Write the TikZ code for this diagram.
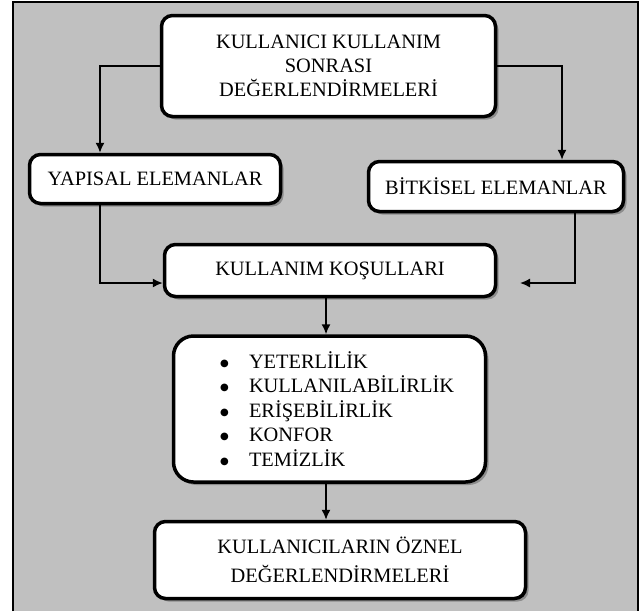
\documentclass[tikz,border=0pt]{standalone}
\usepackage{fontspec}
\setmainfont{Liberation Serif}
\newfontfamily\isaret{DejaVu Sans}
\usetikzlibrary{shadows,arrows.meta}
\definecolor{zemin}{RGB}{192,192,192}
\tikzset{
  kutu/.style={draw,line width=3.5pt,fill=white,rounded corners=11pt,align=center,inner sep=0pt,
    font=\fontsize{20.4}{24}\selectfont,
    drop shadow={shadow xshift=3pt,shadow yshift=-3pt,fill=black!45,opacity=1}},
  ok/.style={line width=1.5pt,-{Latex[length=10pt,width=9pt]}},
  madde/.style={font=\fontsize{20.4}{24.5}\selectfont}
}
\newcommand{\imlec}{\makebox[29pt][l]{\raisebox{2pt}{\isaret\fontsize{10}{10}\selectfont ●}}}
\begin{document}
\begin{tikzpicture}[x=1pt,y=-1pt]
\useasboundingbox (0,0) rectangle (639,611);
\fill[zemin] (13,2) rectangle (638,611);
\draw[line width=2pt] (13,611) -- (13,2) -- (638,2) -- (638,611);
% kutular
\node[kutu,minimum width=334,minimum height=101] (ust) at (328.5,66) {KULLANICI KULLANIM\\SONRASI\\DEĞERLENDİRMELERİ};
\node[kutu,minimum width=251,minimum height=49] (yapisal) at (155,179) {YAPISAL ELEMANLAR};
\node[kutu,minimum width=255,minimum height=50] (bitkisel) at (496,186.5) {BİTKİSEL ELEMANLAR};
\node[kutu,minimum width=331,minimum height=52] (kosul) at (330,270.5) {KULLANIM KOŞULLARI};
\node[kutu,madde,rounded corners=20pt,minimum width=312,minimum height=146,text width=219,align=left] (liste) at (329.5,409)
  {\imlec YETERLİLİK\\\imlec KULLANILABİLİRLİK\\\imlec ERİŞEBİLİRLİK\\\imlec KONFOR\\\imlec TEMİZLİK};
\node[kutu,font=\fontsize{20.4}{29}\selectfont,minimum width=371,minimum height=77] (sonuc) at (340,560) {KULLANICILARIN ÖZNEL\\DEĞERLENDİRMELERİ};
\coordinate (ucbos) at (520,283);
% oklar
\draw[ok] (ust.west) -| ([xshift=-55pt]yapisal.north);
\draw[ok] (ust.east) -| ([xshift=66pt]bitkisel.north);
\draw[ok] ([xshift=-55pt]yapisal.south) |- ([yshift=-12.5pt]kosul.west);
\draw[ok] ([xshift=79pt]bitkisel.south) |- (ucbos);
\draw[ok] ([xshift=-4pt]kosul.south) -- ([xshift=-3.5pt]liste.north);
\draw[ok] ([xshift=-3.5pt]liste.south) -- ([xshift=-3.5pt]liste.south |- sonuc.north);
\end{tikzpicture}
\end{document}
